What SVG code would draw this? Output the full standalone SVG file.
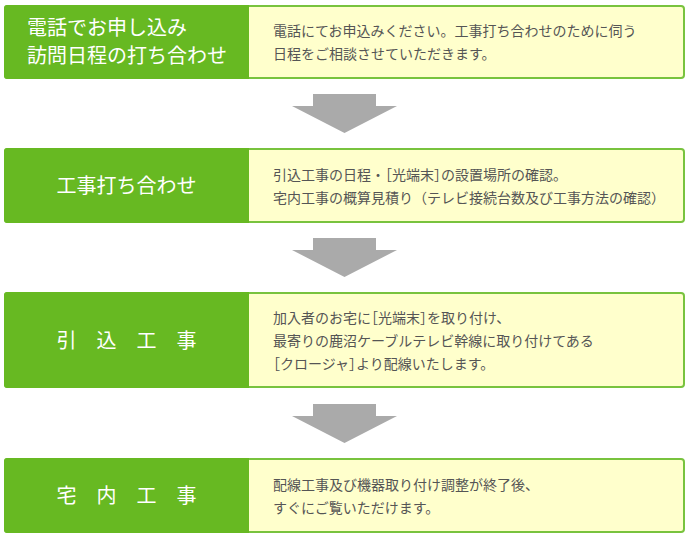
<svg xmlns="http://www.w3.org/2000/svg" width="691" height="540" viewBox="0 0 691 540">
<defs>
<style>
.frame{fill:#ffffcc;stroke:#78c33e;stroke-width:2}
.tab{fill:#67b922}
.lbl{font-family:"Noto Sans CJK JP","Noto Sans",sans-serif;font-size:20px;fill:#ffffff}
.mid{text-anchor:middle}
.desc{font-family:"Noto Sans CJK JP","Noto Sans",sans-serif;font-size:14px;fill:#555555}
.h{font-feature-settings:"halt" 1}
.arrow{fill:#aaaaaa}
</style>
</defs>
<rect width="691" height="540" fill="#ffffff"/>

<g id="connectors">
<path class="arrow" d="M313,94 H376 V106 H397 L344.5,133 L292,106 H313 Z"/>
<path class="arrow" d="M313,238 H376 V250 H397 L344.5,277 L292,250 H313 Z"/>
<path class="arrow" d="M313,404 H376 V416 H397 L344.5,443 L292,416 H313 Z"/>
</g>

<g id="step1">
<rect class="frame" x="5" y="6" width="679" height="72" rx="3"/>
<path class="tab" d="M249,5 H7 Q4,5 4,8 V76 Q4,79 7,79 H249 Z"/>
<text class="lbl" x="27" y="35">電話でお申し込み</text>
<text class="lbl" x="27" y="63">訪問日程の打ち合わせ</text>
<text class="desc" x="273" y="36">電話にてお申込みください。工事打ち合わせのために伺う</text>
<text class="desc" x="273" y="59">日程をご相談させていただきます。</text>
</g>

<g id="step2">
<rect class="frame" x="5" y="149" width="679" height="73" rx="3"/>
<path class="tab" d="M249,148 H7 Q4,148 4,151 V220 Q4,223 7,223 H249 Z"/>
<text class="lbl mid" x="126.5" y="193">工事打ち合わせ</text>
<text class="desc" x="273" y="179.5">引込工事の日程・<tspan class="h">［</tspan>光端末<tspan class="h">］</tspan>の設置場所の確認。</text>
<text class="desc" x="273" y="202.5">宅内工事の概算見積り（テレビ接続台数及び工事方法の確認）</text>
</g>

<g id="step3">
<rect class="frame" x="5" y="293" width="679" height="94" rx="3"/>
<path class="tab" d="M249,292 H7 Q4,292 4,295 V385 Q4,388 7,388 H249 Z"/>
<text class="lbl mid" x="126.5" y="348">引　込　工　事</text>
<text class="desc" x="273" y="323">加入者のお宅に<tspan class="h">［</tspan>光端末<tspan class="h">］</tspan>を取り付け、</text>
<text class="desc" x="273" y="346">最寄りの鹿沼ケーブルテレビ幹線に取り付けてある</text>
<text class="desc" x="273" y="369"><tspan class="h">［</tspan>クロージャ<tspan class="h">］</tspan>より配線いたします。</text>
</g>

<g id="step4">
<rect class="frame" x="5" y="459" width="679" height="73" rx="3"/>
<path class="tab" d="M249,458 H7 Q4,458 4,461 V530 Q4,533 7,533 H249 Z"/>
<text class="lbl mid" x="126.5" y="503">宅　内　工　事</text>
<text class="desc" x="273" y="490">配線工事及び機器取り付け調整が終了後、</text>
<text class="desc" x="273" y="513">すぐにご覧いただけます。</text>
</g>
</svg>
